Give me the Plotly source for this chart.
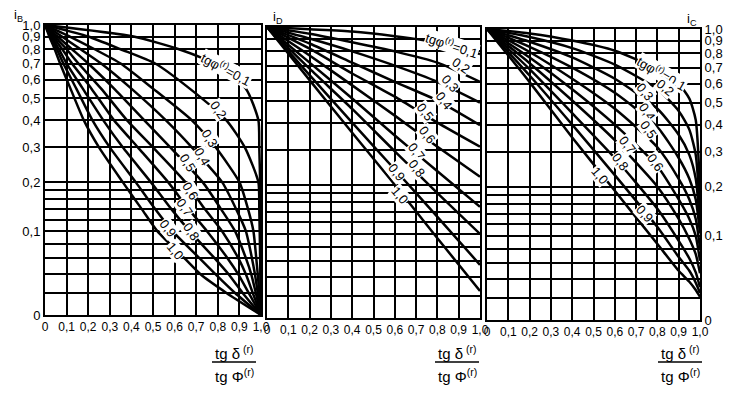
import math
import plotly.graph_objects as go

# ---------------- data ----------------
CURVE_LABELS = ["0,1", "0,2", "0,3", "0,4", "0,5", "0,6", "0,7", "0,8", "0,9", "1,0"]

# Panel i_B : for each curve (tg phi = 0.1 ... 1.0) the abscissa where it
# crosses the ordinate levels IB_LEVELS
IB_LEVELS = [1, 0.9, 0.8, 0.7, 0.55, 0.4, 0.3, 0.2, 0.14, 0.1, 0.06, 0.04, 0.02, 0]
IB_X = [
    [0, 0.41, 0.62, 0.78, 0.93, 0.988, 0.992, 0.996, 0.997, 0.998, 0.9985, 0.999, 0.9995, 1.0],
    [0, 0.2, 0.35, 0.51, 0.67, 0.84, 0.925, 0.988, 0.992, 0.994, 0.996, 0.997, 0.998, 1.0],
    [0, 0.115, 0.23, 0.35, 0.50, 0.68, 0.79, 0.90, 0.94, 0.965, 0.978, 0.985, 0.992, 1.0],
    [0, 0.078, 0.165, 0.26, 0.40, 0.56, 0.68, 0.82, 0.885, 0.93, 0.958, 0.972, 0.985, 1.0],
    [0, 0.058, 0.125, 0.20, 0.32, 0.46, 0.58, 0.73, 0.815, 0.88, 0.93, 0.955, 0.976, 1.0],
    [0, 0.045, 0.10, 0.155, 0.26, 0.38, 0.50, 0.65, 0.74, 0.82, 0.895, 0.93, 0.962, 1.0],
    [0, 0.037, 0.08, 0.125, 0.215, 0.32, 0.43, 0.57, 0.665, 0.75, 0.845, 0.895, 0.943, 1.0],
    [0, 0.03, 0.065, 0.10, 0.175, 0.27, 0.36, 0.49, 0.585, 0.67, 0.785, 0.85, 0.915, 1.0],
    [0, 0.025, 0.055, 0.085, 0.145, 0.22, 0.30, 0.42, 0.51, 0.59, 0.715, 0.79, 0.88, 1.0],
    [0, 0.02, 0.045, 0.07, 0.118, 0.18, 0.25, 0.36, 0.448, 0.52, 0.645, 0.72, 0.84, 1.0],
]

# Panel i_D : values at ID_X
ID_X = [0, 0.2, 0.4, 0.6, 0.8, 1.0]
ID_Y = [
    [1, 0.98, 0.96, 0.92, 0.87, 0.78],
    [1, 0.94, 0.87, 0.80, 0.72, 0.60],
    [1, 0.90, 0.80, 0.70, 0.60, 0.49],
    [1, 0.86, 0.72, 0.60, 0.50, 0.39],
    [1, 0.82, 0.65, 0.52, 0.40, 0.31],
    [1, 0.77, 0.58, 0.43, 0.31, 0.22],
    [1, 0.72, 0.51, 0.35, 0.235, 0.15],
    [1, 0.68, 0.46, 0.295, 0.18, 0.10],
    [1, 0.64, 0.40, 0.24, 0.13, 0.055],
    [1, 0.61, 0.36, 0.20, 0.093, 0.025],
]

# Panel i_C : values at IC_X
IC_X = [0, 0.2, 0.4, 0.6, 0.8, 0.9, 0.95, 0.98, 1.0]
IC_Y = [
    [1, 0.96, 0.90, 0.82, 0.69, 0.60, 0.52, 0.42, 0.19],
    [1, 0.93, 0.84, 0.72, 0.57, 0.46, 0.38, 0.29, 0.145],
    [1, 0.89, 0.77, 0.63, 0.47, 0.36, 0.29, 0.22, 0.121],
    [1, 0.85, 0.70, 0.55, 0.39, 0.28, 0.22, 0.17, 0.104],
    [1, 0.81, 0.63, 0.47, 0.315, 0.22, 0.17, 0.13, 0.081],
    [1, 0.77, 0.57, 0.40, 0.255, 0.17, 0.13, 0.10, 0.063],
    [1, 0.73, 0.51, 0.34, 0.20, 0.13, 0.095, 0.072, 0.047],
    [1, 0.69, 0.45, 0.28, 0.15, 0.092, 0.066, 0.048, 0.031],
    [1, 0.65, 0.40, 0.23, 0.115, 0.068, 0.05, 0.036, 0.025],
    [1, 0.61, 0.35, 0.19, 0.087, 0.05, 0.037, 0.028, 0.021],
]

X_TICKS = [0, 0.1, 0.2, 0.3, 0.4, 0.5, 0.6, 0.7, 0.8, 0.9, 1.0]
X_TICKTEXT = ["0", "0,1", "0,2", "0,3", "0,4", "0,5", "0,6", "0,7", "0,8", "0,9", "1,0"]
Y_GRID = [0, 0.02, 0.04, 0.06, 0.08, 0.1, 0.12, 0.14, 0.16, 0.18, 0.2,
          0.3, 0.4, 0.5, 0.6, 0.7, 0.8, 0.9, 1.0]
Y_LABELED = {0: "0", 0.1: "0,1", 0.2: "0,2", 0.3: "0,3", 0.4: "0,4", 0.5: "0,5",
             0.6: "0,6", 0.7: "0,7", 0.8: "0,8", 0.9: "0,9", 1.0: "1,0"}

# label placement (x, i, angle) per panel
LAB_B = [(0.84, 0.664, 28), (0.80, 0.445, 55), (0.764, 0.332, 58), (0.727, 0.27, 60),
         (0.66, 0.254, 58), (0.67, 0.179, 58), (0.648, 0.144, 55), (0.676, 0.099, 55),
         (0.57, 0.105, 52), (0.60, 0.07, 50)]
LAB_D = [(0.87, 0.852, 18), (0.91, 0.70, 35), (0.86, 0.59, 48), (0.83, 0.50, 52),
         (0.74, 0.447, 52), (0.75, 0.352, 52), (0.70, 0.293, 52), (0.705, 0.244, 52),
         (0.61, 0.233, 52), (0.625, 0.175, 50)]
LAB_C = [(0.82, 0.668, 30), (0.836, 0.578, 40), (0.74, 0.556, 50), (0.75, 0.456, 55),
         (0.756, 0.379, 55), (0.79, 0.265, 55), (0.657, 0.323, 52), (0.624, 0.268, 52),
         (0.74, 0.141, 48), (0.53, 0.23, 50)]

# ---------------- figure ----------------
PAGE_W, PAGE_H = 737, 402
BODY_MARGIN = 8                  # default page margin around the plot div
W, H = PAGE_W - BODY_MARGIN, PAGE_H - BODY_MARGIN
Y_OFF = 0.1                      # ordinate scale of the nomogram: log(i + 0.1)
FONT = "Liberation Sans, Arial, sans-serif"


def px(x):
    return (x - BODY_MARGIN) / W


def py(y):
    return 1 - (y - BODY_MARGIN) / H


panels = [
    dict(xd=[px(45), px(261)], yd=[py(315), py(25)]),
    dict(xd=[px(267), px(480)], yd=[py(318), py(27)]),
    dict(xd=[px(487), px(700)], yd=[py(320), py(29)]),
]

fig = go.Figure()
line_style = dict(color="black", width=2.5, shape="spline", smoothing=0.6)

for k in range(10):
    fig.add_trace(go.Scatter(x=IB_X[k], y=[v + Y_OFF for v in IB_LEVELS], mode="lines",
                             line=line_style, xaxis="x", yaxis="y",
                             showlegend=False, hoverinfo="skip"))
    fig.add_trace(go.Scatter(x=ID_X, y=[v + Y_OFF for v in ID_Y[k]], mode="lines",
                             line=line_style, xaxis="x2", yaxis="y2",
                             showlegend=False, hoverinfo="skip"))
    fig.add_trace(go.Scatter(x=IC_X, y=[v + Y_OFF for v in IC_Y[k]], mode="lines",
                             line=line_style, xaxis="x3", yaxis="y3",
                             showlegend=False, hoverinfo="skip"))

tickvals = [v + Y_OFF for v in Y_GRID]
ticktext = [Y_LABELED.get(v, "") for v in Y_GRID]

layout = dict(width=W, height=H,
              margin=dict(l=0, r=0, t=0, b=0, pad=0, autoexpand=False),
              paper_bgcolor="white", plot_bgcolor="white",
              font=dict(family=FONT, color="black", size=13))

for i, p in enumerate(panels):
    sx = "" if i == 0 else str(i + 1)
    layout["xaxis" + sx] = dict(
        domain=p["xd"], range=[0, 1], tickvals=X_TICKS, ticktext=X_TICKTEXT,
        showgrid=True, gridcolor="black", gridwidth=1.5, zeroline=False,
        showline=True, mirror=True, linecolor="black", linewidth=2,
        ticks="", tickfont=dict(size=12, family=FONT), anchor="y" + sx,
        automargin=False, fixedrange=True)
    layout["yaxis" + sx] = dict(
        domain=p["yd"], type="log",
        range=[math.log10(Y_OFF), math.log10(1 + Y_OFF)],
        tickvals=tickvals, ticktext=ticktext,
        showticklabels=(i != 1), side="right" if i == 2 else "left",
        showgrid=True, gridcolor="black", gridwidth=1.5, zeroline=False,
        showline=True, mirror=True, linecolor="black", linewidth=2,
        ticks="", tickfont=dict(size=13, family=FONT), anchor="x" + sx,
        automargin=False, fixedrange=True)

annotations = []
for labs, sx in ((LAB_B, ""), (LAB_D, "2"), (LAB_C, "3")):
    for k, (lx, ly, ang) in enumerate(labs):
        txt = CURVE_LABELS[k]
        if k == 0:
            txt = "tgφ<sup>(r)</sup>=" + txt
        annotations.append(dict(
            x=lx, y=math.log10(ly + Y_OFF), xref="x" + sx, yref="y" + sx,
            xanchor="center", yanchor="middle",
            text=txt, showarrow=False, textangle=ang,
            font=dict(size=13, family=FONT), bgcolor="white", borderpad=0))

for txt, x, y in (("i<sub>B</sub>", 18, 16), ("i<sub>D</sub>", 278, 17),
                  ("i<sub>C</sub>", 692, 19)):
    annotations.append(dict(x=px(x), y=py(y), xref="paper", yref="paper", text=txt,
                            xanchor="center", yanchor="middle",
                            showarrow=False, font=dict(size=13, family=FONT)))

shapes = []
for cx in (234, 457, 680):
    annotations.append(dict(x=px(cx), y=py(352), xref="paper", yref="paper",
                            xanchor="center", yanchor="middle",
                            text="tg δ<sup> (r)</sup>", showarrow=False,
                            font=dict(size=15, family=FONT)))
    annotations.append(dict(x=px(cx), y=py(375), xref="paper", yref="paper",
                            xanchor="center", yanchor="middle",
                            text="tg Φ<sup>(r)</sup>", showarrow=False,
                            font=dict(size=15, family=FONT)))
    shapes.append(dict(type="line", xref="paper", yref="paper",
                       x0=px(cx - 22), x1=px(cx + 22), y0=py(362), y1=py(362),
                       line=dict(color="black", width=1.5)))

layout["annotations"] = annotations
layout["shapes"] = shapes
fig.update_layout(**layout)
fig.write_html("out.html")
